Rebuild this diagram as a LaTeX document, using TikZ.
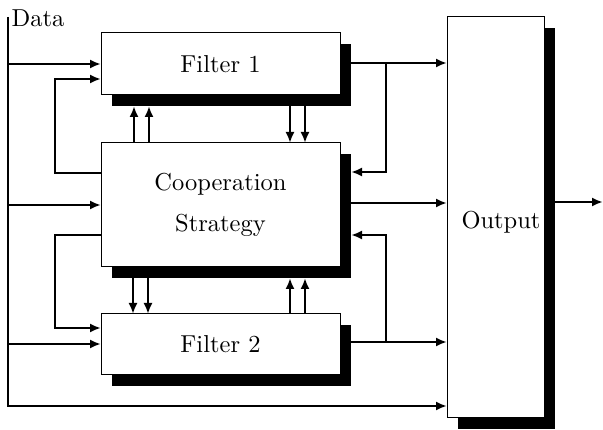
\documentclass[tikz,border=0pt]{standalone}
\usepackage{fontspec}
\newfontfamily\cmten{lmroman10-regular.otf}
\usetikzlibrary{arrows.meta,shadows,calc}
\begin{document}
\begin{tikzpicture}[x=1pt,y=-1pt,
  txt/.style={font=\cmten\fontsize{24.5}{30}\selectfont},
  block/.style={draw, line width=1pt, fill=white, inner sep=0pt, outer sep=0pt,
    txt, align=center,
    general shadow={fill=black, shadow xshift=11pt, shadow yshift=-11pt}},
  wire/.style={line width=2.4pt},
  arr/.style={wire, -{Latex[length=11pt,width=9pt]}}]
\useasboundingbox (0,0) rectangle (603,430);

% blocks with drop shadows
\node[block, minimum width=239pt, minimum height=62pt]  (f1)  at (220.5,64)  {Filter 1};
\node[block, minimum width=239pt, minimum height=124pt] (co)  at (220.5,205) {Cooperation\\[11pt]Strategy};
\node[block, minimum width=239pt, minimum height=61pt]  (f2)  at (220.5,344.5) {Filter 2};
\node[block, minimum width=97pt,  minimum height=401pt] (out) at (495.5,217.5) {};
\node[txt] (outtxt) at (501,222) {Output};

% data bus
\coordinate (dtop) at (8,17);
\coordinate (dbot) at (8,406);
\node[txt, anchor=base west, inner sep=0pt] (datalbl) at (11.5,27) {Data};
\draw[arr] (dtop) |- (out.west |- dbot);
\draw[arr] (dtop |- 0,64)  -- (f1.west |- 0,64);
\draw[arr] (dtop |- 0,205) -- (co.west |- 0,205);
\draw[arr] (dtop |- 0,344) -- (f2.west |- 0,344);

% feedback from the cooperation block into the filters
\draw[arr] (co.west |- 0,173) -| (55,79) -- (f1.west |- 0,79);
\draw[arr] (co.west |- 0,235) -| (55,328) -- (f2.west |- 0,328);

% shadow edges on the right
\coordinate (f1r) at ($(f1.east)+(11,0)$);
\coordinate (cor) at ($(co.east)+(11,0)$);
\coordinate (f2r) at ($(f2.east)+(11,0)$);

% outputs towards the output block
\draw[arr] (f1r |- 0,63)  -- (out.west |- 0,63);
\draw[arr] (cor |- 0,203) -- (out.west |- 0,203);
\draw[arr] (f2r |- 0,342) -- (out.west |- 0,342);
\draw[arr] (386,63)  |- (cor |- 0,172);
\draw[arr] (386,342) |- (cor |- 0,235);
\draw[arr] ($(out.east)+(11,-15.5)$) -- (603,202);

% exchanges between the filters and the cooperation strategy
\coordinate (f1b) at ($(f1.south)+(0,11)$);
\coordinate (cob) at ($(co.south)+(0,11)$);
\foreach \x in {134,149} \draw[arr] (co.north -| \x,0) -- (f1b -| \x,0);
\foreach \x in {290,305} \draw[arr] (f1b -| \x,0) -- (co.north -| \x,0);
\foreach \x in {133,148} \draw[arr] (cob -| \x,0) -- (f2.north -| \x,0);
\foreach \x in {290,305} \draw[arr] (f2.north -| \x,0) -- (cob -| \x,0);
\end{tikzpicture}
\end{document}
